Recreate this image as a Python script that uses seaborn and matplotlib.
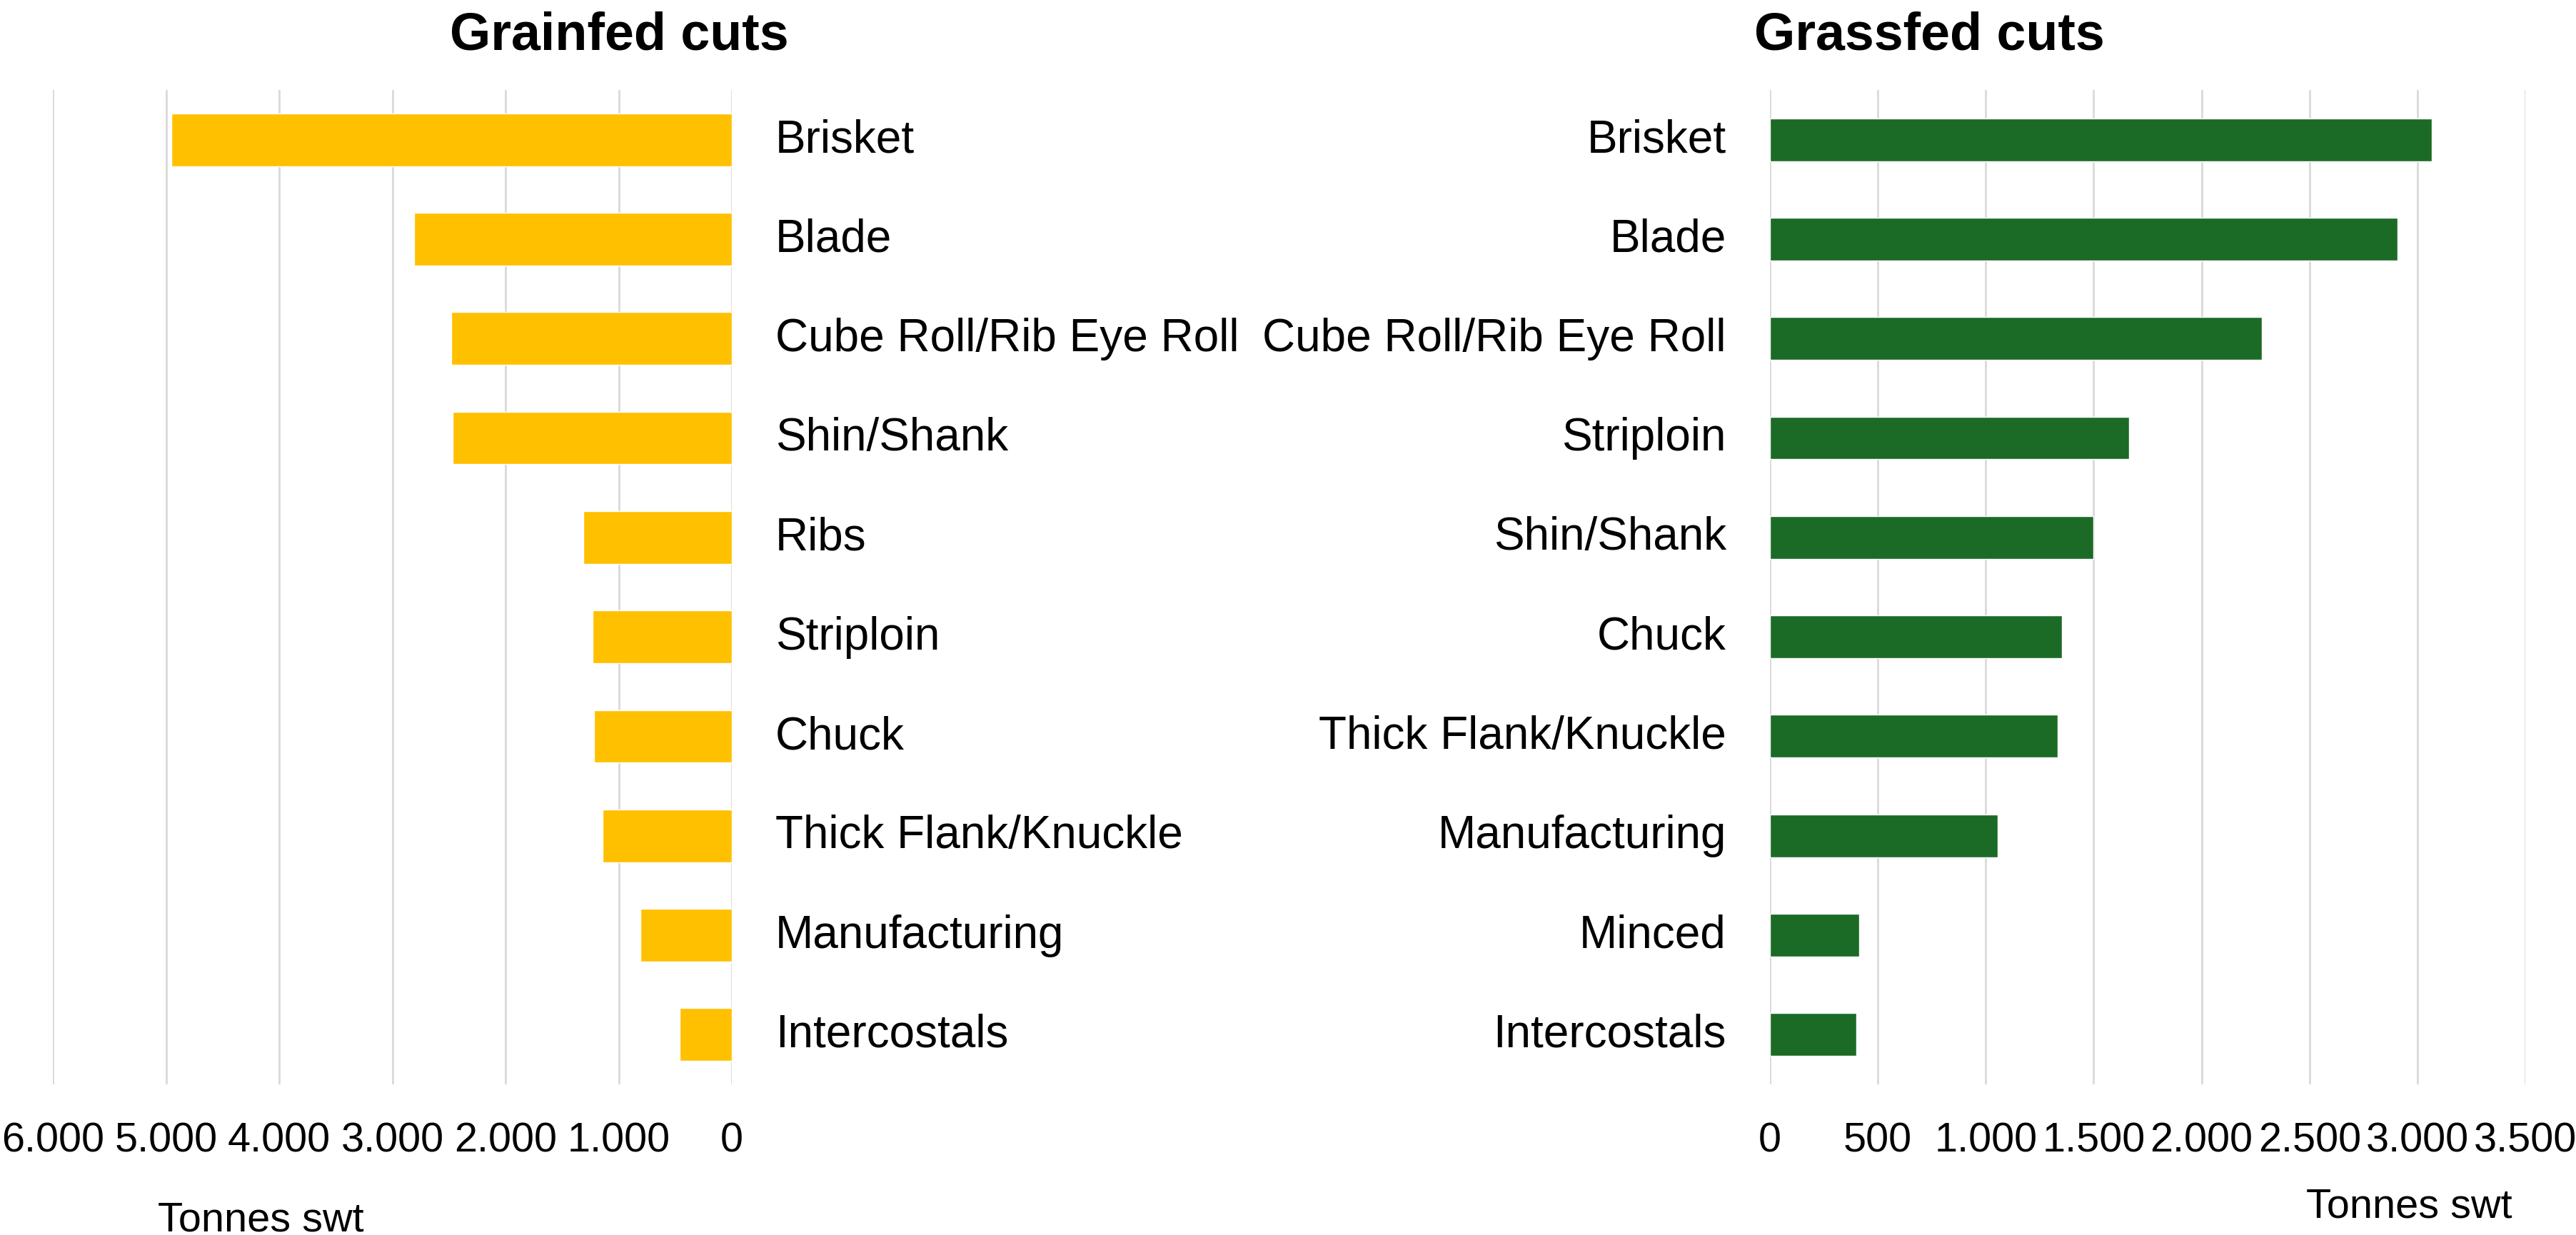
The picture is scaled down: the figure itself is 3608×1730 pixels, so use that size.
import matplotlib
matplotlib.use('Agg')
import matplotlib.pyplot as plt
import matplotlib.ticker as mticker
import matplotlib.transforms as mtransforms
import seaborn as sns
import pandas as pd

grain_cuts = ['Brisket', 'Blade', 'Cube Roll/Rib Eye Roll', 'Shin/Shank', 'Ribs',
              'Striploin', 'Chuck', 'Thick Flank/Knuckle', 'Manufacturing', 'Intercostals']
grain_tonnes = [4950, 2810, 2480, 2470, 1310, 1230, 1220, 1140, 810, 460]

grass_cuts = ['Brisket', 'Blade', 'Cube Roll/Rib Eye Roll', 'Striploin', 'Shin/Shank',
              'Chuck', 'Thick Flank/Knuckle', 'Manufacturing', 'Minced', 'Intercostals']
grass_tonnes = [3067, 2908, 2280, 1664, 1500, 1353, 1334, 1055, 415, 400]

grain_ticks = [0, 1000, 2000, 3000, 4000, 5000, 6000]
grass_ticks = [0, 500, 1000, 1500, 2000, 2500, 3000, 3500]

sns.set_style('white')
plt.rcParams['font.family'] = ['Liberation Sans', 'DejaVu Sans']
plt.rcParams['text.color'] = 'black'
plt.rcParams['xtick.labelcolor'] = 'black'
plt.rcParams['ytick.labelcolor'] = 'black'

df_grain = pd.DataFrame({'cut': grain_cuts, 'tonnes': grain_tonnes})
df_grass = pd.DataFrame({'cut': grass_cuts, 'tonnes': grass_tonnes})

fig = plt.figure(figsize=(36.08, 17.31), dpi=100)
ax1 = fig.add_axes([0.02051, 0.12190, 0.26359, 0.80473])
ax2 = fig.add_axes([0.68709, 0.12190, 0.29324, 0.80473])

sns.barplot(data=df_grain, x='tonnes', y='cut', color='#FFC000', width=0.53,
            saturation=1, orient='h', ax=ax1)
sns.barplot(data=df_grass, x='tonnes', y='cut', color='#1B6B26', width=0.43,
            saturation=1, orient='h', ax=ax2)


def dot_thousands(v, pos):
    return f'{int(v):,}'.replace(',', '.')


# nudge category labels up a little, like the original
lift = mtransforms.ScaledTranslation(0, 5 / 72, fig.dpi_scale_trans)

for ax, ticks in [(ax1, grain_ticks), (ax2, grass_ticks)]:
    ax.set_xticks(ticks)
    ax.xaxis.set_major_formatter(mticker.FuncFormatter(dot_thousands))
    ax.grid(axis='x', color='#D9D9D9', linewidth=2)
    ax.set_axisbelow(True)
    ax.set_ylim(9.5, -0.5)
    ax.set_xlabel('')
    ax.set_ylabel('')
    for s in ax.spines.values():
        s.set_visible(False)
    ax.tick_params(axis='x', length=0, pad=37, labelsize=41.5, labelcolor='black')
    ax.tick_params(axis='y', length=0, pad=44, labelsize=46, labelcolor='black')

ax1.set_xlim(6000, 0)
ax1.yaxis.tick_right()
ax2.set_xlim(0, 3500)

for ax in (ax1, ax2):
    for lab in ax.get_yticklabels():
        lab.set_transform(lab.get_transform() + lift)

fig.text(0.1746, 0.9596, 'Grainfed cuts', fontsize=53, fontweight='bold',
         color='black', ha='left', va='baseline')
fig.text(0.681, 0.9596, 'Grassfed cuts', fontsize=53, fontweight='bold',
         color='black', ha='left', va='baseline')

fig.text(0.0613, 0.0035, 'Tonnes swt', fontsize=41.5, color='black',
         ha='left', va='baseline')
fig.text(0.8952, 0.0150, 'Tonnes swt', fontsize=41.5, color='black',
         ha='left', va='baseline')

fig.savefig('out.png', dpi=100, facecolor='white')
